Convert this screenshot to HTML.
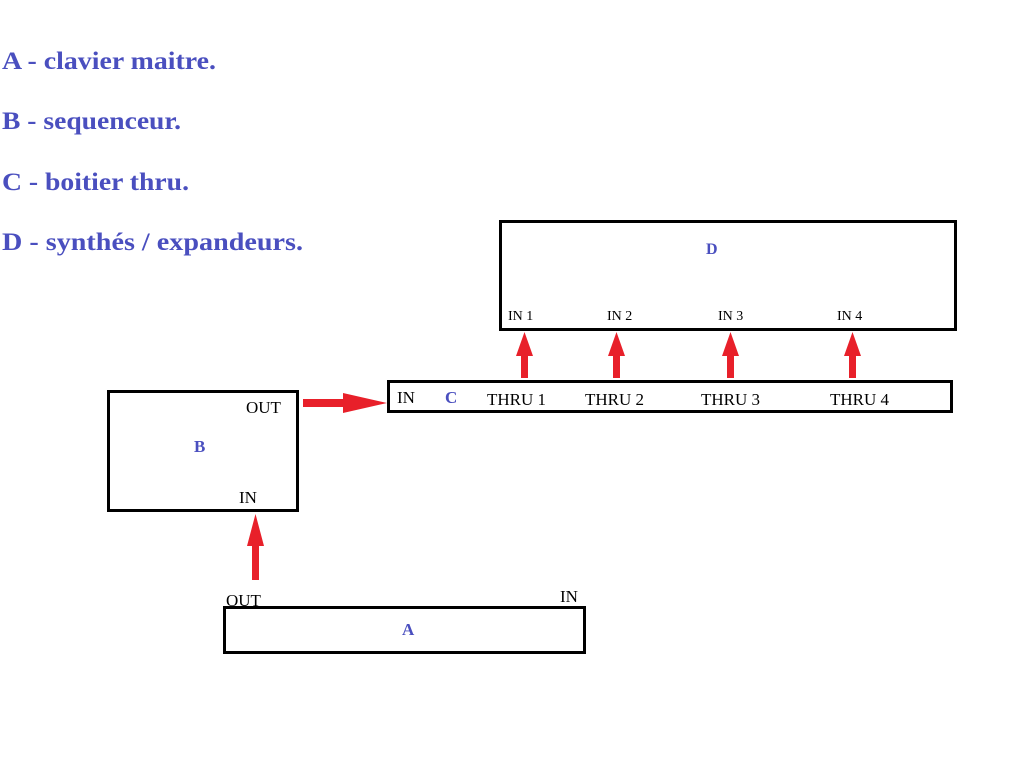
<!DOCTYPE html>
<html><head><style>
body{margin:0;background:#fff;width:1020px;height:768px;overflow:hidden}
svg{display:block}
.lg{font-family:"Liberation Serif",serif;font-weight:bold;font-size:25px;fill:#4a4fbf}
.t{font-family:"Liberation Serif",serif;fill:#000}
.b{font-family:"Liberation Serif",serif;font-weight:bold;fill:#4a4fbf}
</style></head><body>
<svg width="1020" height="768" xmlns="http://www.w3.org/2000/svg">
<text class="lg" x="2" y="69" textLength="214" lengthAdjust="spacingAndGlyphs">A - clavier maitre.</text>
<text class="lg" x="2" y="129" textLength="179" lengthAdjust="spacingAndGlyphs">B - sequenceur.</text>
<text class="lg" x="2" y="190" textLength="187" lengthAdjust="spacingAndGlyphs">C - boitier thru.</text>
<text class="lg" x="2" y="250" textLength="301" lengthAdjust="spacingAndGlyphs">D - synthés / expandeurs.</text>
<g fill="none" stroke="#000" stroke-width="3">
<rect x="500.5" y="221.5" width="455" height="108"/>
<rect x="388.5" y="381.5" width="563" height="30"/>
<rect x="108.5" y="391.5" width="189" height="119"/>
<rect x="224.5" y="607.5" width="360" height="45"/>
</g>
<text class="b" x="706" y="254" font-size="16">D</text>
<g class="t" font-size="14">
<text x="508" y="320">IN 1</text><text x="607" y="320">IN 2</text>
<text x="718" y="320">IN 3</text><text x="837" y="320">IN 4</text>
</g>
<g class="t" font-size="17">
<text x="397" y="403">IN</text>
<text x="487" y="405">THRU 1</text><text x="585" y="405">THRU 2</text>
<text x="701" y="405">THRU 3</text><text x="830" y="405">THRU 4</text>
<text x="246" y="413">OUT</text><text x="239" y="503">IN</text>
<text x="226" y="606">OUT</text><text x="560" y="602">IN</text>
</g>
<text class="b" x="445" y="403" font-size="17">C</text>
<text class="b" x="194" y="452" font-size="17">B</text>
<text class="b" x="402" y="635" font-size="17">A</text>
<g fill="#e8202a">
<path d="M521 378h7v-22h5l-8.5-24-8.5 24h5z"/>
<path d="M613 378h7v-22h5l-8.5-24-8.5 24h5z"/>
<path d="M727 378h7v-22h5l-8.5-24-8.5 24h5z"/>
<path d="M849 378h7v-22h5l-8.5-24-8.5 24h5z"/>
<path d="M252 580h7v-34h5l-8.5-32-8.5 32h5z"/>
<path d="M303 399v8h40v6l44-10-44-10v6z"/>
</g>
</svg>
</body></html>
